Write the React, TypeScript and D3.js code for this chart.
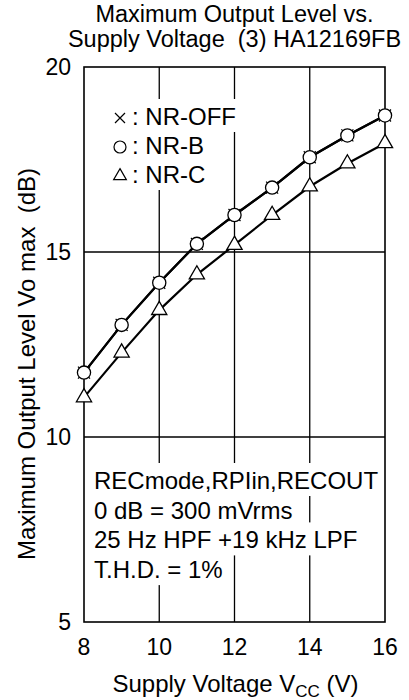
import React, { useEffect, useRef } from 'react';
import * as d3 from 'd3';

const voltages = [8, 9, 10, 11, 12, 13, 14, 15, 16];
const nrOff = [11.74, 13.03, 14.17, 15.22, 16.0, 16.74, 17.56, 18.15, 18.69];
const nrB = [11.74, 13.03, 14.17, 15.22, 16.0, 16.74, 17.56, 18.15, 18.69];
const nrC = [11.07, 12.28, 13.43, 14.39, 15.19, 16.0, 16.77, 17.39, 17.94];

const xTicks = [8, 10, 12, 14, 16];
const yTicks = [5, 10, 15, 20];

const titleLines = ['Maximum Output Level vs.', 'Supply Voltage  (3) HA12169FB'];
const legendLabels = [': NR-OFF', ': NR-B', ': NR-C'];
const notes = ['RECmode,RPIin,RECOUT', '0 dB = 300 mVrms', '25 Hz HPF +19 kHz LPF', 'T.H.D. = 1%'];

const FONT = '"Liberation Sans", Arial, Helvetica, sans-serif';

const App: React.FC = () => {
  const ref = useRef<SVGSVGElement | null>(null);

  useEffect(() => {
    const svg = d3.select(ref.current);
    svg.selectAll('*').remove();

    const left = 84, right = 385, top = 67, bottom = 622;
    const x = d3.scaleLinear().domain([8, 16]).range([left, right]);
    const y = d3.scaleLinear().domain([5, 20]).range([bottom, top]);

    const g = svg.append('g').style('font-family', FONT).style('fill', '#000');

    // title
    g.selectAll('text.title')
      .data(titleLines)
      .enter()
      .append('text')
      .attr('class', 'title')
      .attr('x', (left + right) / 2)
      .attr('y', (d, i) => 22 + i * 25)
      .attr('text-anchor', 'middle')
      .attr('font-size', '23.5px')
      .style('white-space', 'pre')
      .text(d => d);

    // grid
    g.selectAll('line.vgrid')
      .data(xTicks.slice(1, -1))
      .enter()
      .append('line')
      .attr('x1', d => x(d)).attr('x2', d => x(d))
      .attr('y1', top).attr('y2', bottom)
      .attr('stroke', '#000').attr('stroke-width', 1.3);

    g.selectAll('line.hgrid')
      .data(yTicks.slice(1, -1))
      .enter()
      .append('line')
      .attr('x1', left).attr('x2', right)
      .attr('y1', d => y(d)).attr('y2', d => y(d))
      .attr('stroke', '#000').attr('stroke-width', 1.3);

    // text blocks with white backing
    const addBlock = (lines: string[], tx: number, ty: number, step: number) => {
      const grp = g.append('g');
      lines.forEach((s, i) => {
        const bg = grp.append('rect').attr('fill', '#fff');
        const t = grp.append('text')
          .attr('x', tx)
          .attr('y', ty + i * step)
          .attr('font-size', '24px')
          .text(s);
        const w = (t.node() as SVGTextElement).getComputedTextLength();
        bg.attr('x', tx - 4).attr('y', ty + i * step - 26).attr('width', w + 8).attr('height', 33);
      });
    };

    // legend
    const legY = [125, 154, 183];
    g.append('rect')
      .attr('x', 106).attr('y', legY[0] - 26)
      .attr('width', 28).attr('height', legY[2] - legY[0] + 30)
      .attr('fill', '#fff');
    addBlock(legendLabels, 132, legY[0], 29);

    addBlock(notes, 94, 489, 29.7);

    // frame
    g.append('rect')
      .attr('x', left).attr('y', top)
      .attr('width', right - left).attr('height', bottom - top)
      .attr('fill', 'none').attr('stroke', '#000').attr('stroke-width', 1.6);

    // axis labels
    g.selectAll('text.ytick')
      .data(yTicks)
      .enter()
      .append('text')
      .attr('x', 71)
      .attr('y', d => y(d) + 8)
      .attr('text-anchor', 'end')
      .attr('font-size', '23px')
      .text(d => d);

    g.selectAll('text.xtick')
      .data(xTicks)
      .enter()
      .append('text')
      .attr('x', d => x(d))
      .attr('y', 655)
      .attr('text-anchor', 'middle')
      .attr('font-size', '23px')
      .text(d => d);

    const xt = g.append('text')
      .attr('x', (left + right) / 2 + 1)
      .attr('y', 692)
      .attr('text-anchor', 'middle')
      .attr('font-size', '24px');
    xt.append('tspan').text('Supply Voltage V');
    xt.append('tspan').attr('font-size', '17px').attr('dy', 5).text('CC');
    xt.append('tspan').attr('dy', -5).text(' (V)');

    g.append('text')
      .attr('transform', 'translate(35,364) rotate(-90)')
      .attr('text-anchor', 'middle')
      .attr('font-size', '24px')
      .style('white-space', 'pre')
      .text('Maximum Output Level Vo max  (dB)');

    // series
    const line = d3.line<number>()
      .x((d, i) => x(voltages[i]))
      .y(d => y(d));

    [nrOff, nrB, nrC].forEach(s => {
      g.append('path')
        .attr('d', line(s) || '')
        .attr('fill', 'none')
        .attr('stroke', '#000')
        .attr('stroke-width', 2.2);
    });

    const cross = (sel: d3.Selection<SVGGElement, unknown, null, undefined>, cx: number, cy: number, r: number) => {
      sel.append('path')
        .attr('d', `M${cx - r},${cy - r}L${cx + r},${cy + r}M${cx - r},${cy + r}L${cx + r},${cy - r}`)
        .attr('stroke', '#000').attr('stroke-width', 1.2).attr('fill', 'none');
    };
    const tri = d3.symbol().type(d3.symbolTriangle).size(100);

    const marks = g.append('g');
    nrOff.forEach((v, i) => cross(marks, x(voltages[i]), y(v), 6));
    nrB.forEach((v, i) => {
      marks.append('circle')
        .attr('cx', x(voltages[i])).attr('cy', y(v)).attr('r', 6.6)
        .attr('fill', '#fff').attr('stroke', '#000').attr('stroke-width', 1.3);
    });
    nrC.forEach((v, i) => {
      marks.append('path')
        .attr('d', tri() || '')
        .attr('transform', `translate(${x(voltages[i])},${y(v)})`)
        .attr('fill', '#fff').attr('stroke', '#000').attr('stroke-width', 1.3);
    });

    // legend symbols
    cross(marks, 120, legY[0] - 7, 5);
    marks.append('circle')
      .attr('cx', 120).attr('cy', legY[1] - 7).attr('r', 6)
      .attr('fill', '#fff').attr('stroke', '#000').attr('stroke-width', 1.2);
    marks.append('path')
      .attr('d', d3.symbol().type(d3.symbolTriangle).size(70)() || '')
      .attr('transform', `translate(120,${legY[2] - 7})`)
      .attr('fill', '#fff').attr('stroke', '#000').attr('stroke-width', 1.2);
  }, []);

  return (
    <svg
      ref={ref}
      width={409}
      height={700}
      style={{ position: 'absolute', left: 0, top: 0, background: '#fff' }}
    />
  );
};

export default App;
